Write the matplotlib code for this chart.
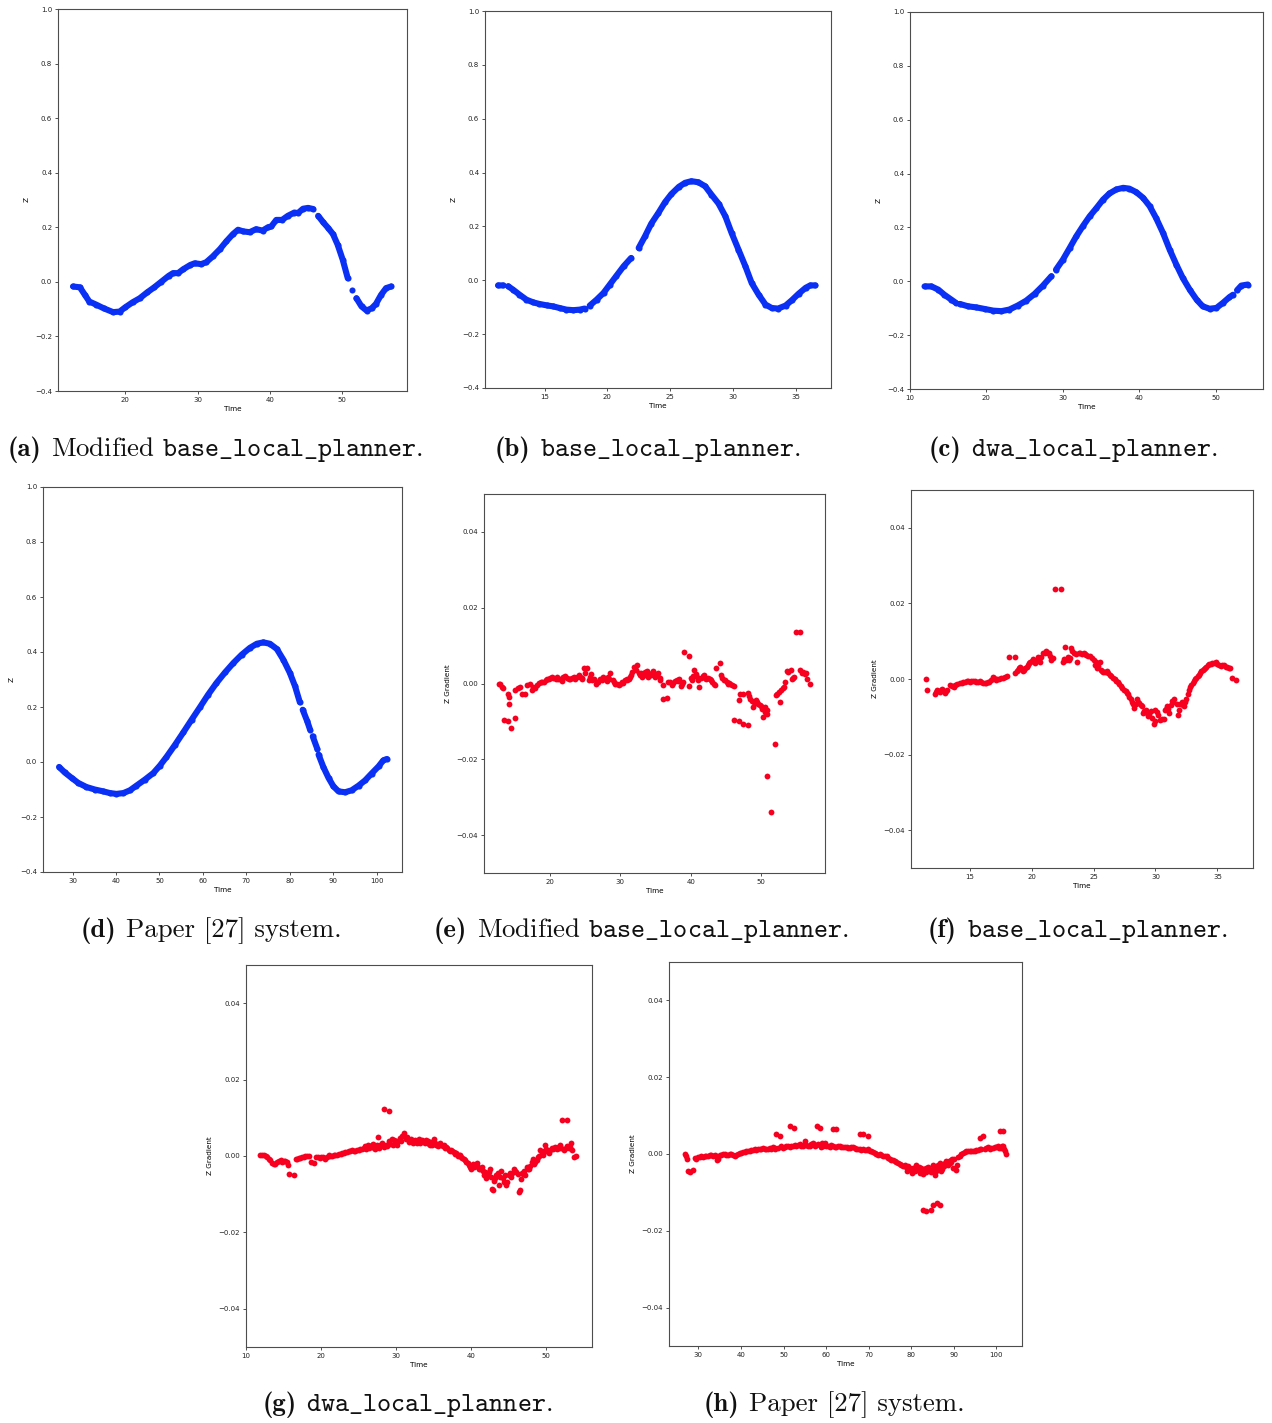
import matplotlib
matplotlib.use('Agg')
import matplotlib.pyplot as plt
import numpy as np

plt.rcParams['font.family'] = 'DejaVu Sans'
plt.rcParams['mathtext.fontset'] = 'cm'

BLUE = '#0a30f5'
RED = '#f70020'

# ---- Z over time (None = break in the recorded track) ----
a_time = [12.75, 13.7, 14.4, 15.0, 16.0, 17.0, 18.3, 19.2, 20.0, 21.0, 22.0, 23.0, 24.0, 25.0,
          26.0, 26.6, 27.3, 28.0, 29.0, 29.6, 30.5, 31.2, 32.1, 33.1, 34.0, 34.9, 35.6, 36.3,
          37.2, 38.1, 39.0, 39.75, 40.2, 40.9, 41.7, 42.5, 43.4, 43.9, 44.6, 45.3, 46.0, None,
          46.7, 47.4, 48.1, 48.75, 49.4, 50.1, 50.8, None, 51.4, None, 52.0, 52.7, 53.4, 54.1,
          54.7, 55.4, 56.1, 56.8]
a_z = [-0.017, -0.02, -0.048, -0.072, -0.084, -0.097, -0.111, -0.109, -0.093, -0.075, -0.06,
       -0.039, -0.02, 0.001, 0.022, 0.032, 0.032, 0.046, 0.062, 0.068, 0.065, 0.072, 0.093, 0.12,
       0.149, 0.175, 0.191, 0.185, 0.182, 0.193, 0.188, 0.2, 0.203, 0.227, 0.227, 0.242, 0.254,
       0.252, 0.268, 0.271, 0.267, None, 0.242, 0.218, 0.197, 0.175, 0.136, 0.081, 0.013, None,
       -0.029, None, -0.06, -0.09, -0.105, -0.097, -0.081, -0.048, -0.023, -0.017]

b_time = [11.3, 11.7, None, 12.1, 12.5, 13.0, 13.56, 14.1, 14.6, 15.16, 15.7, 16.2, 16.75, 17.3,
          17.8, 18.2, None, 18.6, 19.15, 19.7, 20.2, 20.7, 21.3, 21.9, None, 22.5, 23.0, 23.5,
          24.07, 24.6, 25.1, 25.7, 26.2, 26.7, 27.26, 27.8, 28.3, 28.86, 29.4, 29.9, 30.45, 31.0,
          31.5, 32.05, 32.6, 33.1, 33.6, 34.2, 34.7, 35.24, 35.8, 36.17, 36.57]
b_z = [-0.019, -0.019, None, -0.022, -0.035, -0.053, -0.072, -0.082, -0.088, -0.093, -0.097,
       -0.103, -0.109, -0.111, -0.109, -0.105, None, -0.094, -0.072, -0.047, -0.016, 0.015, 0.052,
       0.083, None, 0.12, 0.163, 0.21, 0.25, 0.29, 0.32, 0.347, 0.362, 0.368, 0.364, 0.349, 0.318,
       0.285, 0.238, 0.176, 0.114, 0.052, -0.01, -0.053, -0.09, -0.103, -0.105, -0.094, -0.074,
       -0.05, -0.028, -0.019, -0.019]

c_time = [11.9, 12.8, 13.7, 14.5, 15.4, 16.0, None, 16.5, 17.6, 18.7, 19.8, 20.9, 21.95, 23.0,
          24.1, 25.2, 26.3, 27.4, 28.5, None, 29.1, 30.0, 30.9, 31.76, 32.6, 33.5, 34.4, 35.25,
          36.1, 37.0, 37.9, 38.7, 39.6, 40.5, 41.36, 42.2, 43.1, 43.97, 44.85, 45.7, 46.6, 47.5,
          48.3, 49.2, 50.1, 50.95, 51.8, 52.26, None, 52.8, 53.35, 54.2]
c_z = [-0.019, -0.019, -0.031, -0.05, -0.068, -0.08, None, -0.084, -0.093, -0.097, -0.103,
       -0.109, -0.111, -0.105, -0.09, -0.072, -0.047, -0.016, 0.019, None, 0.043, 0.08, 0.124,
       0.167, 0.204, 0.241, 0.272, 0.303, 0.326, 0.341, 0.347, 0.344, 0.331, 0.31, 0.279, 0.235,
       0.18, 0.118, 0.062, 0.012, -0.031, -0.068, -0.093, -0.102, -0.099, -0.08, -0.059, -0.05,
       None, -0.033, -0.016, -0.012]

d_time = [26.9, 28.2, 29.8, 31.3, 33.2, 35.1, 37.1, 38.6, 40.1, 41.7, 43.2, 44.7, 46.65, 48.6,
          50.1, 51.6, 53.6, 55.5, 57.4, 59.3, 61.2, 63.1, 65.1, 67.0, 68.9, 70.8, 72.4, 73.9, 75.4,
          77.0, 78.5, 80.0, 81.2, 82.3, None, 82.95, 84.0, 84.64, None, 85.26, 86.33, None, 86.6,
          87.7, 88.9, 90.0, 91.2, 92.7, 94.2, 95.8, 97.3, 98.8, 100.4, 101.5, 102.3]
d_z = [-0.018, -0.038, -0.058, -0.076, -0.091, -0.1, -0.107, -0.113, -0.116, -0.113, -0.103,
       -0.086, -0.064, -0.04, -0.013, 0.018, 0.063, 0.108, 0.154, 0.199, 0.245, 0.287, 0.326,
       0.36, 0.39, 0.415, 0.43, 0.435, 0.43, 0.411, 0.372, 0.324, 0.275, 0.217, None, 0.19,
       0.148, 0.118, None, 0.093, 0.047, None, 0.027, -0.018, -0.058, -0.088, -0.107, -0.11,
       -0.103, -0.086, -0.067, -0.042, -0.016, 0.006, 0.011]

# ---- Z gradient over time ----
e_time = [12.7, 12.95, 13.2, 13.4, 13.5, 14.0, 14.1, 14.2, 14.25, 14.4, 15.0, 15.1, 15.4, 15.8,
          16.0, 16.5, 16.7, 17.2, 17.4, 17.9, 18.4, 18.9, 19.1, 19.4, 19.8, 20.0, 20.3, 20.8,
          21.0, 21.2, 21.7, 22.2, 22.4, 22.65, 23.1, 23.4, 23.6, 24.1, 24.3, 24.5, 24.8, 25.25,
          25.5, 25.8, 26.2, 26.5, 26.9, 27.1, 27.4, 27.6, 28.1, 28.4, 28.6, 28.9, 29.3, 29.75,
          30.0, 30.2, 30.7, 31.0, 31.2, 31.5, 31.9, 32.4, 32.6, 33.1, 33.3, 33.5, 33.8, 34.0,
          34.2, 34.5, 34.7, 34.9, 35.2, 35.4, 35.7, 36.0, 36.1, 36.6, 36.8, 37.0, 37.3, 37.8,
          38.0, 38.3, 38.6, 38.9, 39.07, 39.7, 39.7, 40.0, 40.2, 40.5, 40.9, 41.25, 41.7, 42.0,
          42.2, 42.7, 43.1, 43.5, 43.6, 44.2, 44.3, 44.5, 44.7, 45.1, 45.3, 45.6, 46.1, 46.2,
          46.8, 46.8, 47.0, 47.5, 47.5, 48.1, 48.2, 48.5, 48.9, 49.0, 49.3, 49.6, 49.8, 50.1,
          50.3, 50.5, 50.6, 50.8, 50.9, 50.9, 51.4, 52.0, 52.1, 52.5, 52.7, 53.1, 53.4, 53.7,
          54.2, 54.4, 54.7, 55.0, 55.6, 55.6, 56.0, 56.4, 56.6, 56.9,
          17.6, 18.1, 18.7, 19.6, 20.5, 21.4, 21.9, 22.9, 23.8, 24.6, 25.0, 25.65, 26.0, 26.7,
          27.8, 28.3, 29.1, 29.5, 30.4, 30.9, 31.35, 31.7, 32.2, 32.8, 33.0, 33.6, 34.35, 35.0,
          35.6, 37.5, 38.15, 38.8, 40.35, 40.7, 41.0, 41.5, 41.9, 42.4, 42.9, 43.3, 44.9, 45.45,
          45.9, 48.35, 48.7, 49.15, 49.45, 50.0, 52.3, 52.9, 53.25, 53.9, 54.55, 55.8, 56.2]
e_grad = [0.0, -0.0002, -0.0009, -0.0013, -0.0096, -0.0099, -0.0027, -0.0035, -0.0055, -0.0117,
          -0.009, -0.0018, -0.0013, -0.0009, -0.0029, -0.0027, -0.0004, -0.0002, -0.0018, -0.0011,
          0.0002, 0.0004, 0.0005, 0.0009, 0.0013, 0.0015, 0.0018, 0.0011, 0.0016, 0.0013, 0.0007,
          0.0019, 0.0014, 0.0013, 0.0015, 0.0018, 0.0011, 0.0022, 0.0018, 0.0011, 0.0042, 0.0042,
          0.0009, 0.0025, 0.0013, -0.0002, 0.0004, 0.0012, 0.0009, 0.0016, 0.0007, 0.0012, 0.0027,
          0.0009, 0.0, -0.0004, 0.0, 0.0004, 0.0009, 0.001, 0.0013, 0.0022, 0.0044, 0.0048, 0.0028,
          0.0018, 0.0022, 0.0031, 0.0033, 0.0018, 0.0025, 0.0028, 0.0033, 0.0018, 0.0022, 0.0028,
          0.0009, -0.0004, -0.004, -0.0037, 0.0004, 0.0005, -0.0004, 0.0007, 0.001, 0.0012,
          -0.0007, 0.0004, 0.0083, 0.0073, -0.0007, 0.0015, 0.0009, 0.0035, 0.0018, -0.0009,
          0.0019, 0.0015, 0.0011, 0.0012, 0.0004, -0.0004, 0.0042, 0.0055, 0.0022, 0.0015, 0.0009,
          0.0004, 0.0, -0.0002, -0.0007, -0.0096, -0.0099, -0.0044, -0.0027, -0.0029, -0.0106,
          -0.011, -0.0025, -0.004, -0.0062, -0.005, -0.0044, -0.0053, -0.0058, -0.0066, -0.0088,
          -0.0075, -0.0062, -0.008, -0.0071, -0.0243, -0.0339, -0.0159, -0.0031, -0.0022, -0.0049,
          -0.0013, 0.0004, 0.0034, 0.0035, 0.0013, 0.0018, 0.0135, 0.0135, 0.0035, 0.0031, 0.0027,
          0.0013, 0.0,
          -0.0008, -0.0004, 0.0003, 0.0011, 0.0015, 0.0011, 0.0016, 0.0012, 0.0016, 0.0015,
          0.0028, 0.0018, 0.0008, 0.0003, 0.0012, 0.0018, 0.0004, -0.0002, 0.0002, 0.0012, 0.0018,
          0.003, 0.0035, 0.0022, 0.0028, 0.0024, 0.0022, 0.0025, 0.0015, 0.0002, 0.0006, -0.0002,
          0.002, 0.0025, 0.0008, 0.0015, 0.0022, 0.0015, 0.0008, 0.0, 0.0008, 0.0002, -0.0004,
          -0.0032, -0.0045, -0.0052, -0.0048, -0.006, -0.0027, -0.0018, -0.0008, 0.003, 0.0015,
          0.0028, 0.0025]

f_time = [11.5, 11.6, 12.2, 12.4, 12.6, 12.8, 13.0, 13.2, 13.4, 13.7, 13.95, 14.2, 14.5, 14.75,
          15.0, 15.3, 15.55, 15.8, 16.1, 16.35, 16.6, 16.9, 17.1, 17.4, 17.7, 18.0, 18.2, 18.65,
          18.7, 18.9, 19.1, 19.3, 19.5, 19.7, 19.9, 20.1, 20.3, 20.5, 20.7, 20.9, 21.2, 21.4,
          21.6, 21.7, 21.9, 22.4, 22.55, 22.7, 22.8, 23.1, 23.2, 23.4, 23.7, 23.9, 24.2, 24.4,
          24.7, 25.0, 25.1, 25.3, 25.5, 25.6, 25.8, 26.05, 26.3, 26.6, 26.85, 27.07, 27.3, 27.6,
          27.8, 28.0, 28.2, 28.3, 28.5, 28.7, 28.9, 29.0, 29.2, 29.4, 29.6, 29.75, 29.9, 30.0,
          30.2, 30.0, 30.35, 30.65, 30.75, 30.9, 31.1, 31.35, 31.5, 31.8, 31.9, 32.1, 32.3, 32.5,
          32.7, 32.9, 33.1, 33.3, 33.5, 33.7, 33.9, 34.1, 34.3, 34.6, 34.9, 35.1, 35.4, 35.7,
          35.9, 36.2, 36.5,
          12.3, 12.7, 12.9, 13.1, 13.55, 13.85, 14.35, 14.6, 14.9, 15.15, 15.45, 15.7, 15.95,
          16.25, 16.5, 16.75, 17.0, 17.25, 17.55, 17.85, 18.8, 19.0, 19.2, 19.4, 19.6, 19.8, 20.0,
          20.2, 20.4, 20.6, 20.8, 21.05, 21.3, 21.5, 22.6, 22.9, 23.0, 23.3, 23.55, 23.8, 24.05,
          24.3, 24.55, 24.85, 25.2, 25.4, 25.7, 25.95, 26.2, 26.45, 26.7, 26.95, 27.2, 27.45,
          27.7, 27.9, 28.1, 28.4, 28.6, 28.8, 29.1, 29.3, 29.5, 30.1, 30.5, 30.85, 31.0, 31.25,
          31.45, 31.7, 32.0, 32.2, 32.4, 32.6, 32.8, 33.0, 33.2, 33.4, 33.6, 33.8, 34.0, 34.2,
          34.45, 34.75, 35.0, 35.25, 35.55, 35.8, 36.05]
f_grad = [0.0, -0.0028, -0.0041, -0.003, -0.0035, -0.0026, -0.0037, -0.0028, -0.0015, -0.0021,
          -0.0012, -0.0011, -0.0009, -0.0006, -0.0007, -0.0004, -0.0009, -0.0005, -0.0011,
          -0.0011, -0.0009, 0.0004, -0.0002, 0.0001, 0.0003, 0.0009, 0.0058, 0.0057, 0.0016,
          0.0025, 0.0032, 0.0022, 0.0029, 0.0038, 0.0046, 0.0053, 0.0042, 0.0057, 0.0044, 0.0068,
          0.0073, 0.007, 0.0051, 0.0055, 0.0238, 0.0238, 0.0046, 0.0084, 0.0051, 0.0055, 0.0082,
          0.0068, 0.0046, 0.007, 0.0068, 0.0064, 0.006, 0.0051, 0.0038, 0.0029, 0.0046, 0.0025,
          0.0018, 0.002, 0.0011, 0.0003, -0.0006, -0.0012, -0.0024, -0.0032, -0.0041, -0.0054,
          -0.0065, -0.0076, -0.0054, -0.0063, -0.0072, -0.0089, -0.0081, -0.0098, -0.0085,
          -0.0103, -0.012, -0.0081, -0.0094, -0.0111, -0.0109, -0.0107, -0.0081, -0.0072, -0.0089,
          -0.0058, -0.0053, -0.0096, -0.0081, -0.0061, -0.0072, -0.0054, -0.0028, -0.0015,
          -0.0006, 0.0003, 0.0011, 0.002, 0.0026, 0.0033, 0.004, 0.0042, 0.0044, 0.0038, 0.0038,
          0.0033, 0.0029, 0.0003, -0.0002,
          -0.0035, -0.003, -0.0032, -0.0031, -0.0018, -0.0016, -0.001, -0.0008, -0.0005, -0.0006,
          -0.0006, -0.0007, -0.0008, -0.001, -0.0008, -0.0002, 0.0002, 0.0, 0.0002, 0.0006, 0.002,
          0.0028, 0.0027, 0.0025, 0.0033, 0.0042, 0.0048, 0.0047, 0.005, 0.005, 0.0058, 0.0068,
          0.007, 0.0062, 0.0052, 0.0058, 0.005, 0.0075, 0.0065, 0.0068, 0.0066, 0.0066, 0.0062,
          0.0055, 0.0045, 0.0035, 0.0022, 0.0018, 0.0015, 0.0008, 0.0, -0.0009, -0.0018, -0.0028,
          -0.0036, -0.0048, -0.006, -0.0065, -0.006, -0.0068, -0.0085, -0.009, -0.0092, -0.0088,
          -0.0105, -0.008, -0.008, -0.0068, -0.006, -0.0065, -0.0065, -0.0068, -0.0062, -0.004,
          -0.002, -0.001, 0.0, 0.0008, 0.0015, 0.0024, 0.003, 0.0036, 0.0041, 0.0043, 0.004,
          0.0035, 0.0036, 0.0031, 0.0028]

g_time = [11.9, 12.4, 12.8, 13.2, 13.7, 14.1, 14.6, 15.0, 15.4, 15.6, 15.7, 16.4, 16.6, 17.0,
          17.5, 17.9, 18.4, 18.6, 19.1, 19.38, 19.82, 20.27, 20.58, 21.02, 21.47, 21.91, 22.36,
          22.8, 23.24, 23.69, 24.13, 24.58, 25.02, 25.47, 25.91, 26.22, 26.58, 26.93, 27.24,
          27.56, 27.82, 28.13, 28.44, 28.44, 29.02, 29.24, 29.47, 29.78, 30.13, 30.49, 30.8,
          31.11, 31.47, 31.69, 32.0, 32.36, 32.71, 33.02, 33.33, 33.69, 34.04, 34.36, 34.67,
          35.02, 35.38, 35.69, 36.0, 36.36, 36.71, 37.02, 37.33, 37.69, 38.04, 38.36, 38.67,
          39.02, 39.38, 39.69, 40.0, 40.27, 40.58, 40.89, 41.24, 41.6, 41.78, 42.04, 42.36, 42.58,
          42.8, 42.93, 43.11, 43.38, 43.69, 44.0, 44.36, 44.71, 45.02, 45.33, 45.69, 46.04,
          46.36, 46.49, 46.67, 46.93, 47.24, 47.56, 47.91, 48.27, 48.58, 48.89, 49.24, 49.6,
          49.91, 50.22, 50.58, 50.93, 51.24, 51.56, 51.91, 52.13, 52.8, 52.36, 52.8, 53.16,
          53.33, 53.47, 53.69, 54.04,
          12.1, 12.6, 13.0, 13.45, 13.9, 14.35, 14.8, 15.2, 16.8, 17.2, 17.7, 18.15, 19.6, 20.0,
          20.8, 21.2, 21.7, 22.1, 22.6, 23.0, 23.45, 23.9, 24.35, 24.8, 25.25, 25.7, 26.0, 26.4,
          26.75, 27.1, 27.4, 27.7, 28.0, 28.3, 28.6, 28.85, 29.1, 29.6, 29.95, 30.3, 30.65, 31.3,
          31.85, 32.2, 32.55, 32.85, 33.15, 33.5, 33.85, 34.2, 34.5, 34.85, 35.2, 35.55, 35.85,
          36.2, 36.55, 36.85, 37.2, 37.5, 37.85, 38.2, 38.5, 38.85, 39.2, 39.55, 39.85, 40.4,
          40.75, 41.05, 41.4, 41.9, 42.2, 42.7, 43.25, 43.55, 43.85, 44.2, 44.55, 44.85, 45.15,
          45.5, 45.85, 46.2, 46.8, 47.1, 47.4, 47.75, 48.1, 48.4, 48.75, 49.05, 49.4, 49.75,
          50.05, 50.4, 50.75, 51.1, 51.4, 51.75, 52.0, 52.6, 53.0]
g_grad = [0.0002, 0.0002, -0.0003, -0.0011, -0.002, -0.0016, -0.0011, -0.0014, -0.0017, -0.0023,
          -0.0048, -0.0049, -0.0009, -0.0005, -0.0003, -0.0001, -0.0001, -0.0017, -0.0019,
          -0.0003, -0.0004, -0.0002, -0.0007, 0.0002, -0.0001, 0.0003, 0.0005, 0.0008, 0.001,
          0.0013, 0.0015, 0.0012, 0.0017, 0.0019, 0.0026, 0.0028, 0.0023, 0.0032, 0.0019, 0.005,
          0.0028, 0.0035, 0.0024, 0.0124, 0.0117, 0.0032, 0.0045, 0.0041, 0.0028, 0.0047, 0.0052,
          0.0059, 0.005, 0.0037, 0.0045, 0.004, 0.0037, 0.0044, 0.0038, 0.0037, 0.0041, 0.0032,
          0.0037, 0.0044, 0.0028, 0.0032, 0.0028, 0.003, 0.0024, 0.0017, 0.0015, 0.001, 0.0009,
          0.0002, -0.0003, -0.0007, -0.0016, -0.0023, -0.0033, -0.002, -0.0024, -0.0029, -0.0033,
          -0.0038, -0.0051, -0.0058, -0.0042, -0.0033, -0.0086, -0.009, -0.0066, -0.0051, -0.0075,
          -0.0038, -0.0068, -0.0077, -0.0051, -0.0055, -0.0033, -0.0042, -0.0093, -0.009, -0.0059,
          -0.0046, -0.0051, -0.0033, -0.0026, -0.0007, -0.0017, -0.0003, 0.0017, 0.0002, 0.0028,
          0.001, 0.0015, 0.0019, 0.0024, 0.0024, 0.0028, 0.0095, 0.0095, 0.0015, 0.0026, 0.0024,
          0.0035, 0.0015, -0.0003, -0.0001,
          0.0002, 0.0, -0.0008, -0.0018, -0.0022, -0.0014, -0.0016, -0.0012, -0.0007, -0.0004,
          -0.0002, 0.0, -0.0003, -0.0002, -0.0002, 0.0, 0.0002, 0.0003, 0.0006, 0.0009, 0.0011,
          0.0013, 0.0013, 0.0015, 0.0018, 0.0022, 0.0018, 0.002, 0.0028, 0.0022, 0.003, 0.0022,
          0.0028, 0.003, 0.003, 0.0025, 0.0038, 0.003, 0.0038, 0.004, 0.0038, 0.0045, 0.004,
          0.0035, 0.0042, 0.0033, 0.0033, 0.0042, 0.0033, 0.0038, 0.0028, 0.003, 0.0035, 0.0025,
          0.0035, 0.0025, 0.0022, 0.002, 0.0012, 0.0012, 0.0005, 0.0, 0.0002, -0.0005, -0.001,
          -0.0018, -0.0028, -0.003, -0.0018, -0.0035, -0.0028, -0.0042, -0.0048, -0.0055, -0.0058,
          -0.0045, -0.0055, -0.0058, -0.005, -0.0068, -0.0045, -0.0045, -0.0038, -0.0048, -0.0045,
          -0.004, -0.0028, -0.0035, -0.0015, -0.0022, -0.001, 0.0, 0.0008, 0.0012, 0.0018, 0.0008,
          0.0022, 0.002, 0.0018, 0.0022, 0.002, 0.0022, 0.002]

h_time = [26.8, 27.0, 27.3, 27.6, 28.1, 28.7, 29.14, 29.92, 30.7, 31.49, 32.27, 33.05, 33.84,
          34.39, 35.01, 35.8, 36.58, 37.36, 38.14, 38.93, 39.71, 40.49, 41.28, 42.06, 42.84,
          43.62, 44.41, 45.19, 45.97, 46.76, 47.54, 48.32, 49.11, 48.72, 49.5, 50.28, 51.06,
          51.61, 52.4, 51.85, 52.63, 53.41, 54.2, 54.98, 55.37, 56.16, 56.94, 57.88, 58.5, 57.72,
          58.5, 59.29, 59.68, 60.46, 61.25, 61.64, 62.26, 62.03, 62.81, 63.59, 64.38, 65.16,
          65.94, 66.73, 67.9, 68.68, 69.86, 67.51, 68.29, 69.08, 69.86, 70.64, 71.43, 72.21,
          72.99, 73.77, 74.56, 75.34, 76.12, 76.91, 77.69, 78.47, 79.02, 79.65, 80.27, 80.82,
          81.21, 81.6, 82.0, 82.39, 82.78, 83.17, 83.56, 83.95, 84.35, 84.74, 85.13, 85.52,
          85.91, 86.3, 86.7, 87.09, 87.48, 87.87, 88.26, 88.65, 89.05, 89.44, 89.83, 90.45,
          90.77, 91.39, 92.18, 92.96, 93.74, 94.53, 95.31, 96.09, 96.87, 96.48, 97.27, 98.05,
          98.83, 99.62, 100.4, 100.79, 101.57, 101.18, 101.57, 101.96, 102.2, 82.78, 83.41,
          84.74, 85.13, 86.07, 86.85,
          29.5, 30.3, 31.1, 31.9, 32.65, 33.45, 34.1, 34.7, 35.4, 36.2, 37.0, 37.75, 38.55, 39.3,
          40.1, 40.9, 41.7, 42.45, 43.2, 44.0, 44.8, 45.6, 46.4, 47.15, 47.9, 48.0, 49.8, 50.65,
          51.4, 52.2, 53.0, 53.8, 54.6, 55.0, 55.8, 56.5, 57.3, 58.1, 58.9, 59.0, 60.0, 60.8,
          61.6, 62.4, 63.2, 64.0, 64.8, 65.5, 66.3, 67.1, 67.9, 68.7, 69.5, 70.3, 71.0, 71.8,
          72.6, 73.4, 74.2, 74.9, 75.7, 76.5, 77.3, 78.1, 78.8, 79.3, 80.0, 80.5, 81.0, 81.8,
          82.2, 82.6, 83.0, 83.4, 83.8, 84.2, 84.6, 85.0, 85.7, 86.1, 86.5, 86.9, 87.3, 87.7,
          88.1, 88.5, 88.9, 89.3, 89.6, 90.1, 90.9, 91.7, 92.5, 93.3, 94.1, 94.9, 95.7, 96.2,
          97.6, 98.4, 99.2, 100.0, 100.6, 101.3, 101.8]
h_grad = [0.0, -0.0006, -0.0012, -0.0043, -0.0047, -0.0041, -0.001, -0.0009, -0.0006, -0.0004,
          -0.0006, -0.0003, -0.0002, -0.0015, -0.0002, 0.0, -0.0002, 0.0001, -0.0002, -0.0002,
          0.0003, 0.0005, 0.0007, 0.0009, 0.0011, 0.0011, 0.0013, 0.0016, 0.0013, 0.0016, 0.0017,
          0.0052, 0.0048, 0.0016, 0.002, 0.0017, 0.0022, 0.0072, 0.0069, 0.002, 0.0023, 0.0024,
          0.002, 0.0033, 0.0024, 0.0022, 0.0029, 0.0074, 0.0068, 0.0024, 0.0023, 0.002, 0.0029,
          0.002, 0.0023, 0.0066, 0.0066, 0.0017, 0.002, 0.0017, 0.0017, 0.0016, 0.0017, 0.0016,
          0.0053, 0.0053, 0.0046, 0.0014, 0.0011, 0.0011, 0.0013, 0.0007, 0.0003, -0.0002,
          -0.0002, -0.0006, -0.001, -0.0015, -0.0019, -0.0023, -0.0028, -0.0029, -0.0045, -0.0036,
          -0.0049, -0.0045, -0.0029, -0.0041, -0.0049, -0.0036, -0.0052, -0.0045, -0.0036,
          -0.0035, -0.0045, -0.0041, -0.0029, -0.0054, -0.0036, -0.0028, -0.0023, -0.0045,
          -0.0032, -0.0023, -0.0019, -0.0028, -0.0023, -0.0015, -0.0036, -0.0041, -0.0029,
          -0.0006, 0.0003, 0.0007, 0.0009, 0.0007, 0.0011, 0.0042, 0.0046, 0.0014, 0.0014, 0.0017,
          0.0016, 0.0018, 0.002, 0.0061, 0.0061, 0.0016, 0.002, 0.0007, 0.0, -0.0147, -0.0149,
          -0.0145, -0.0132, -0.0127, -0.0133,
          -0.0012, -0.0008, -0.0008, -0.0004, -0.0002, -0.0006, -0.0005, -0.0012, -0.0002, 0.0,
          -0.0002, -0.0001, -0.0004, 0.0, 0.0002, 0.0004, 0.0008, 0.001, 0.0012, 0.0012, 0.0013,
          0.0012, 0.0014, 0.0014, 0.0016, 0.0012, 0.0016, 0.002, 0.0018, 0.0022, 0.002, 0.0026,
          0.0022, 0.0026, 0.002, 0.0026, 0.0022, 0.0026, 0.0018, 0.0028, 0.0022, 0.0018, 0.0022,
          0.0018, 0.0022, 0.0019, 0.0018, 0.0015, 0.0018, 0.0013, 0.0014, 0.0013, 0.0011, 0.0009,
          0.0006, 0.0001, 0.0, -0.0004, -0.0006, -0.0012, -0.0016, -0.0021, -0.0025, -0.0032,
          -0.0035, -0.003, -0.004, -0.0036, -0.0038, -0.0035, -0.0042, -0.0045, -0.0038, -0.0048,
          -0.0042, -0.0038, -0.0048, -0.004, -0.0045, -0.0032, -0.0038, -0.0028, -0.0038, -0.003,
          -0.0025, -0.0022, -0.0018, -0.002, -0.0012, -0.0012, -0.0008, 0.0, 0.0005, 0.0008,
          0.0009, 0.0009, 0.001, 0.0012, 0.0015, 0.0014, 0.0016, 0.0017, 0.0015, 0.0022, 0.0012]

cap_labels = ['(a)', '(b)', '(c)', '(d)', '(e)', '(f)', '(g)', '(h)']
cap_texts = [
    r'Modified $\mathtt{base\_local\_planner}$.',
    r'$\mathtt{base\_local\_planner}$.',
    r'$\mathtt{dwa\_local\_planner}$.',
    'Paper [27] system.',
    r'Modified $\mathtt{base\_local\_planner}$.',
    r'$\mathtt{base\_local\_planner}$.',
    r'$\mathtt{dwa\_local\_planner}$.',
    'Paper [27] system.',
]

W, H = 1272, 1423
fig = plt.figure(figsize=(W / 100, H / 100), dpi=100)


def make_axes(left, top, right, bottom):
    ax = fig.add_axes([left / W, 1 - bottom / H, (right - left) / W, (bottom - top) / H])
    for sp in ax.spines.values():
        sp.set_color('#4d4d4d')
        sp.set_linewidth(0.8)
    ax.tick_params(length=2, width=0.6, pad=2.2, labelsize=5.0, colors='#333333',
                   labelcolor='#222222')
    return ax


def z_panel(box, t, z, xlim, xticks):
    ax = make_axes(*box)
    ax.plot(np.array(t, dtype=float), np.array(z, dtype=float), color=BLUE, lw=4.4,
            marker='o', ms=4.4, mew=0, solid_capstyle='round')
    ax.set_xlim(*xlim)
    ax.set_ylim(-0.4, 1.0)
    ax.set_xticks(xticks)
    ax.set_yticks(np.round(np.arange(-0.4, 1.01, 0.2), 1))
    ax.set_xlabel('Time', fontsize=5.2, labelpad=2)
    ax.set_ylabel('Z', fontsize=5.2)
    return ax


def grad_panel(box, t, g, xlim, xticks):
    ax = make_axes(*box)
    ax.plot(t, g, 'o', color=RED, ms=4.2, mew=0)
    ax.set_xlim(*xlim)
    ax.set_ylim(-0.05, 0.05)
    ax.set_xticks(xticks)
    ax.set_yticks([-0.04, -0.02, 0.0, 0.02, 0.04])
    ax.set_xlabel('Time', fontsize=5.2, labelpad=2)
    ax.set_ylabel('Z Gradient', fontsize=5.2)
    return ax


z_panel((58, 9, 407, 391), a_time, a_z, (10.67, 59.0), [20, 30, 40, 50])
z_panel((485, 11, 831, 388), b_time, b_z, (10.26, 37.82), [15, 20, 25, 30, 35])
z_panel((910, 12, 1263, 389), c_time, c_z, (10.0, 56.19), [10, 20, 30, 40, 50])
z_panel((43, 487, 402, 872), d_time, d_z, (23.2, 105.8), [30, 40, 50, 60, 70, 80, 90, 100])

grad_panel((484, 494, 825, 873), e_time, e_grad, (10.63, 59.09), [20, 30, 40, 50])
grad_panel((911, 490, 1253, 868), f_time, f_grad, (10.27, 37.87), [15, 20, 25, 30, 35])
grad_panel((246, 965, 592, 1347), g_time, g_grad, (10.0, 56.13), [10, 20, 30, 40, 50])
grad_panel((669, 962, 1022, 1346), h_time, h_grad, (23.1, 106.0),
           [30, 40, 50, 60, 70, 80, 90, 100])

# sub-figure captions: bold tag followed by the roman / typewriter description
CAP_SIZE = 19.3
renderer = fig.canvas.get_renderer()
cap_x = [215.5, 647.5, 1073.5, 211, 641.5, 1077.5, 407.5, 834]
cap_y = [456, 456, 456, 937, 937, 937, 1411, 1411]
for label, text, cx, cy in zip(cap_labels, cap_texts, cap_x, cap_y):
    y = 1 - cy / H
    t1 = fig.text(0, y, label, fontfamily='cmb10', fontsize=CAP_SIZE, va='baseline',
                  color='#111111')
    t2 = fig.text(0, y, text, fontfamily='cmr10', fontsize=CAP_SIZE, va='baseline',
                  color='#111111')
    w1 = t1.get_window_extent(renderer).width
    w2 = t2.get_window_extent(renderer).width
    gap = 0.36 * CAP_SIZE * 100 / 72
    left = cx - (w1 + gap + w2) / 2
    t1.set_x(left / W)
    t2.set_x((left + w1 + gap) / W)

fig.savefig('out.png', dpi=100)
